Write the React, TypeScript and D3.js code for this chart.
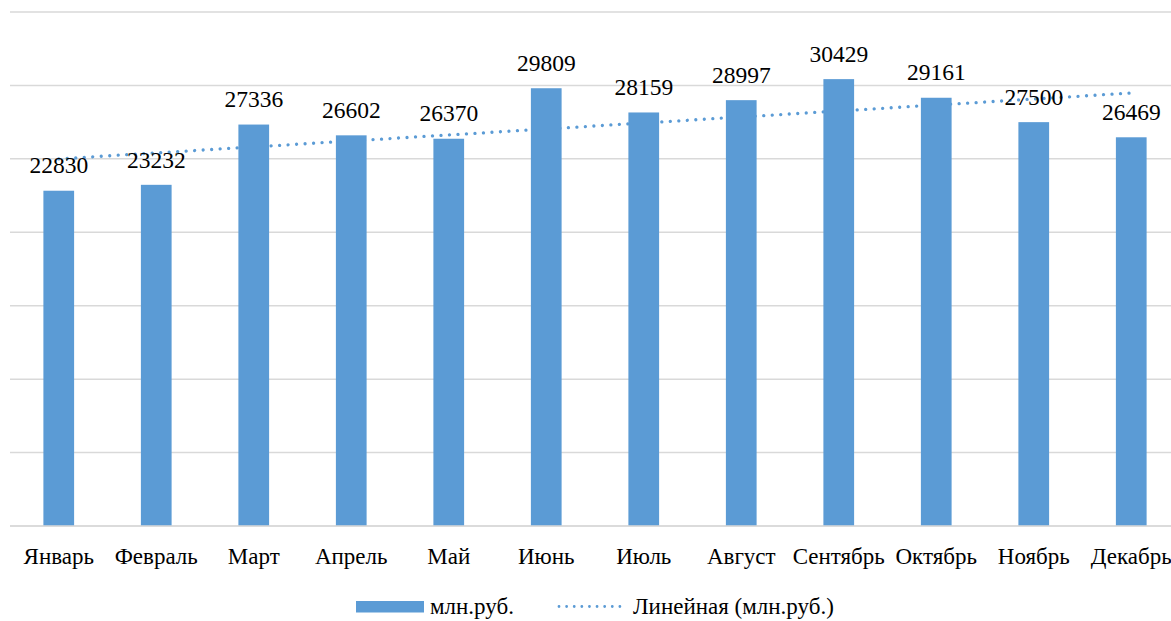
import React from "react";
import * as d3 from "d3";

const months = ["Январь", "Февраль", "Март", "Апрель", "Май", "Июнь", "Июль", "Август", "Сентябрь", "Октябрь", "Ноябрь", "Декабрь"];
const values = [22830, 23232, 27336, 26602, 26370, 29809, 28159, 28997, 30429, 29161, 27500, 26469];
const gridTicks = [0, 5000, 10000, 15000, 20000, 25000, 30000, 35000];
const seriesName = "млн.руб.";
const trendName = "Линейная (млн.руб.)";

const W = 1171;
const H = 621;
const FONT = "Liberation Serif";
const BAR = "#5b9bd5";

export default function App() {
  const x = d3.scaleBand<string>().domain(months).range([10, 1180]).paddingInner(0.685).paddingOuter(0.3425);
  const y = d3.scaleLinear().domain([0, 35000]).range([526, 12]);

  // linear (least squares) trendline derived from the series
  const n = values.length;
  const xs = values.map((_, i) => i + 1);
  const mx = d3.mean(xs)!;
  const my = d3.mean(values)!;
  const slope = d3.sum(xs.map((xi, i) => (xi - mx) * (values[i] - my))) / d3.sum(xs.map((xi) => (xi - mx) ** 2));
  const icpt = my - slope * mx;
  const trendPts: [number, number][] = months.map((m, i) => [x(m)! + x.bandwidth() / 2, y(icpt + slope * (i + 1))]);
  const trendPath = d3.line()([trendPts[0], trendPts[n - 1]]) || "";

  return (
    <svg width={W} height={H} style={{ position: "absolute", left: 0, top: 0 }}>
      <rect x={0} y={0} width={W} height={H} fill="#fff" />
      {gridTicks.map((t) => (
        <line key={t} x1={10} x2={W} y1={y(t)} y2={y(t)} stroke="#d9d9d9" strokeWidth={1.5} />
      ))}
      <path d={trendPath} fill="none" stroke={BAR} strokeWidth={3.3} strokeLinecap="round" strokeDasharray="0.01 8.5" />
      {months.map((m, i) => (
        <rect key={m} x={x(m)} y={y(values[i])} width={x.bandwidth()} height={y(0) - y(values[i])} fill={BAR} />
      ))}
      <line x1={10} x2={W} y1={y(0)} y2={y(0)} stroke="#d9d9d9" strokeWidth={1.5} />
      {months.map((m, i) => (
        <text key={"v" + m} fontFamily={FONT} x={x(m)! + x.bandwidth() / 2} y={y(values[i]) - 17.3} textAnchor="middle" fontSize={23.5}>
          {String(values[i])}
        </text>
      ))}
      {months.map((m) => (
        <text key={"c" + m} fontFamily={FONT} x={x(m)! + x.bandwidth() / 2} y={564} textAnchor="middle" fontSize={23}>
          {m}
        </text>
      ))}
      <rect x={356} y={601} width={68} height={11.5} fill={BAR} />
      <text fontFamily={FONT} x={430} y={614} fontSize={23}>{seriesName}</text>
      <line x1={559} x2={620} y1={606.5} y2={606.5} stroke={BAR} strokeWidth={2.8} strokeLinecap="round" strokeDasharray="0.01 7.6" />
      <text fontFamily={FONT} x={633} y={614} fontSize={23}>{trendName}</text>
    </svg>
  );
}
